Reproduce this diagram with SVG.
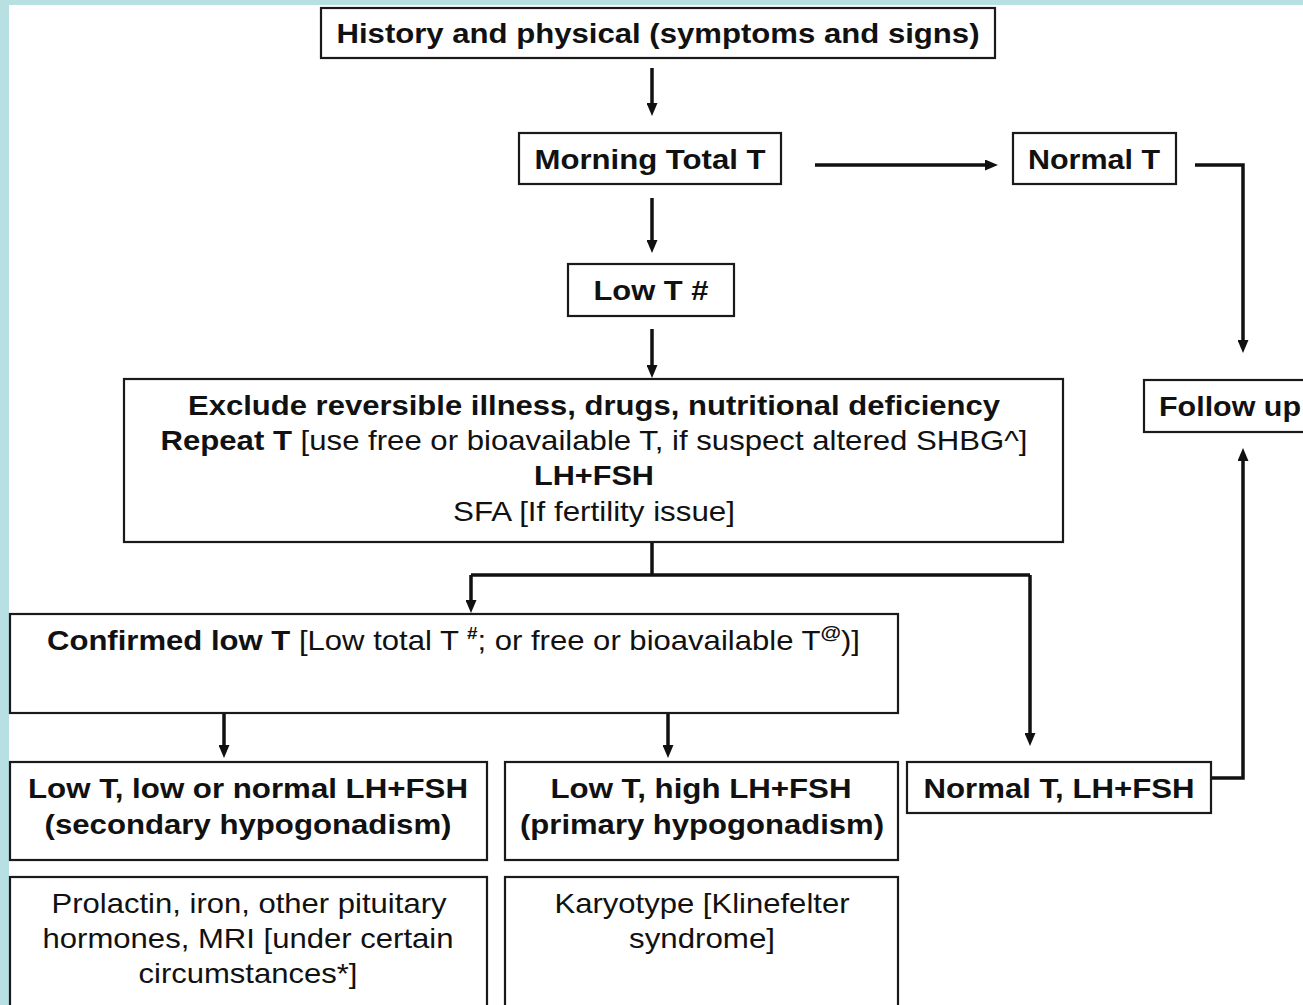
<svg xmlns="http://www.w3.org/2000/svg" width="1303" height="1005" viewBox="0 0 1303 1005">
<style>
.box{fill:#fff;stroke:#1a1a1a;stroke-width:2.2}
.t{font-family:"Liberation Sans",Arial,Helvetica,sans-serif;font-size:28px;fill:#111;text-anchor:middle}
.b{font-weight:bold}
.n{font-weight:normal}
.c{fill:none;stroke:#111;stroke-width:3.5}
.ca{fill:none;stroke:#111;stroke-width:3.5;marker-end:url(#ah)}
</style>
<defs>
<marker id="ah" markerUnits="userSpaceOnUse" markerWidth="13" markerHeight="11" refX="8" refY="5.5" orient="auto">
<path d="M0,0 L13,5.5 L0,11 z" fill="#111"/>
</marker>
</defs>
<rect x="0" y="0" width="1303" height="1005" fill="#b8dfe2"/>
<rect x="9" y="5" width="1294" height="1000" fill="#fff"/>

<g id="connectors">
<path class="ca" d="M652,68 V111"/>
<path class="ca" d="M652,198 V248"/>
<path class="ca" d="M652,329 V373"/>
<path class="ca" d="M815,165 H993"/>
<path class="ca" d="M1195,165 H1243 V348"/>
<path class="c" d="M652,542 V575"/>
<path class="c" d="M471,575 H1030"/>
<path class="ca" d="M471,575 V608"/>
<path class="ca" d="M1030,575 V741"/>
<path class="ca" d="M224,713 V753"/>
<path class="ca" d="M668,713 V753"/>
<path class="ca" d="M1211,778 H1243 V453"/>
</g>

<g id="history">
<rect class="box" x="321" y="8" width="674" height="50"/>
<text class="t b" x="658" y="43" textLength="643" lengthAdjust="spacingAndGlyphs">History and physical (symptoms and signs)</text>
</g>
<g id="morning">
<rect class="box" x="519" y="133" width="262" height="51"/>
<text class="t b" x="650" y="169" textLength="231" lengthAdjust="spacingAndGlyphs">Morning Total T</text>
</g>
<g id="normalT">
<rect class="box" x="1013" y="133" width="163" height="51"/>
<text class="t b" x="1094" y="169" textLength="132" lengthAdjust="spacingAndGlyphs">Normal T</text>
</g>
<g id="lowT">
<rect class="box" x="568" y="264" width="166" height="52"/>
<text class="t b" x="651" y="300" textLength="115" lengthAdjust="spacingAndGlyphs">Low T #</text>
</g>
<g id="followup">
<rect class="box" x="1144" y="380" width="170" height="52"/>
<text class="t b" x="1159" y="416" style="text-anchor:start" textLength="142" lengthAdjust="spacingAndGlyphs">Follow up</text>
</g>
<g id="exclude">
<rect class="box" x="124" y="379" width="939" height="163"/>
<text class="t b" x="594" y="415" textLength="812" lengthAdjust="spacingAndGlyphs">Exclude reversible illness, drugs, nutritional deficiency</text>
<text class="t" x="594" y="450" textLength="867" lengthAdjust="spacingAndGlyphs"><tspan class="b">Repeat T</tspan> [use free or bioavailable T, if suspect altered SHBG^]</text>
<text class="t b" x="594" y="485" textLength="120" lengthAdjust="spacingAndGlyphs">LH+FSH</text>
<text class="t" x="594" y="521" textLength="282" lengthAdjust="spacingAndGlyphs">SFA [If fertility issue]</text>
</g>
<g id="confirmed">
<rect class="box" x="10" y="614" width="888" height="99"/>
<text class="t" x="47" y="650" style="text-anchor:start" textLength="813" lengthAdjust="spacingAndGlyphs"><tspan class="b">Confirmed low T</tspan> [Low total T <tspan class="b" font-size="17" dy="-11">#</tspan><tspan dy="11">; or free or bioavailable T</tspan><tspan class="b" font-size="19" dy="-11">@</tspan><tspan dy="11">)]</tspan></text>
</g>
<g id="secondary">
<rect class="box" x="10" y="762" width="477" height="98"/>
<text class="t b" x="248" y="798" textLength="440" lengthAdjust="spacingAndGlyphs">Low T, low or normal LH+FSH</text>
<text class="t b" x="248" y="834" textLength="407" lengthAdjust="spacingAndGlyphs">(secondary hypogonadism)</text>
</g>
<g id="primary">
<rect class="box" x="505" y="762" width="393" height="98"/>
<text class="t b" x="701" y="798" textLength="301" lengthAdjust="spacingAndGlyphs">Low T, high LH+FSH</text>
<text class="t b" x="702" y="834" textLength="364" lengthAdjust="spacingAndGlyphs">(primary hypogonadism)</text>
</g>
<g id="normalTLH">
<rect class="box" x="907" y="762" width="304" height="51"/>
<text class="t b" x="1059" y="798" textLength="271" lengthAdjust="spacingAndGlyphs">Normal T, LH+FSH</text>
</g>
<g id="secondaryTests">
<rect class="box" x="10" y="877" width="477" height="140"/>
<text class="t" x="249" y="913" textLength="395" lengthAdjust="spacingAndGlyphs">Prolactin, iron, other pituitary</text>
<text class="t" x="248" y="948" textLength="411" lengthAdjust="spacingAndGlyphs">hormones, MRI [under certain</text>
<text class="t" x="248" y="983" textLength="219" lengthAdjust="spacingAndGlyphs">circumstances*]</text>
</g>
<g id="primaryTests">
<rect class="box" x="505" y="877" width="393" height="140"/>
<text class="t" x="702" y="913" textLength="295" lengthAdjust="spacingAndGlyphs">Karyotype [Klinefelter</text>
<text class="t" x="702" y="948" textLength="146" lengthAdjust="spacingAndGlyphs">syndrome]</text>
</g>
</svg>
